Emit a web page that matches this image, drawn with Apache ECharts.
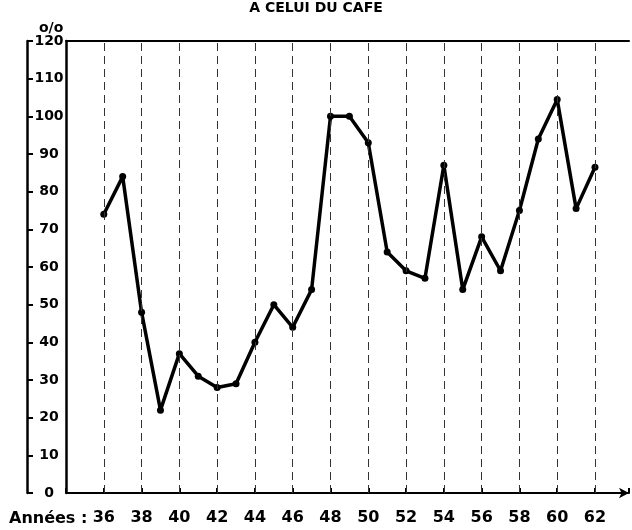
<!DOCTYPE html>
<html>
<head>
<meta charset="utf-8">
<script src="https://cdn.jsdelivr.net/npm/echarts@6/dist/echarts.min.js"></script>
<style>
  html, body { margin: 0; padding: 0; background: #fff; }
  #chart { width: 632px; height: 530px; }
</style>
</head>
<body>
<div id="chart"></div>
<script>
// années (19..), valeurs en o/o
const years = [36, 37, 38, 39, 40, 41, 42, 43, 44, 45, 46, 47, 48, 49,
               50, 51, 52, 53, 54, 55, 56, 57, 58, 59, 60, 61, 62];
const values = [74, 84, 48, 22, 37, 31, 28, 29, 40, 50, 44, 54, 100, 100,
                93, 64, 59, 57, 87, 54, 68, 59, 75, 94, 104.5, 75.5, 86.5];
const yearTicks = [36, 38, 40, 42, 44, 46, 48, 50, 52, 54, 56, 58, 60, 62];

const font = 'DejaVu Sans';
const chart = echarts.init(document.getElementById('chart'));

chart.setOption({
  animation: false,
  backgroundColor: '#fff',
  title: [
    {
      text: 'A CELUI DU CAFE',
      left: 'center',
      top: -4,
      textStyle: { fontFamily: font, fontSize: 14, fontWeight: 'bold', color: '#000' }
    },
    {
      text: 'o/o',
      left: 34,
      top: 16,
      textStyle: { fontFamily: font, fontSize: 14, fontWeight: 'bold', color: '#000' }
    },
    {
      text: 'Années :',
      left: 4,
      top: 506,
      textStyle: { fontFamily: font, fontSize: 16, fontWeight: 'bold', color: '#000' }
    }
  ],
  grid: { left: 66, right: 0, top: 41, bottom: 37 },
  xAxis: [{
    type: 'value',
    min: 34,
    max: 63.8,
    interval: 2,
    position: 'bottom',
    axisLine: {
      show: true,
      onZero: false,
      symbol: ['none', 'arrow'],
      symbolSize: [8, 10],
      lineStyle: { color: '#000', width: 2 }
    },
    axisTick: { show: true, inside: true, length: 5, lineStyle: { color: '#000', width: 2 } },
    axisLabel: {
      color: '#000',
      fontFamily: font,
      fontSize: 16,
      fontWeight: 'bold',
      margin: 17,
      formatter: v => (yearTicks.indexOf(v) >= 0 ? String(v) : '')
    },
    splitLine: { show: false }
  }, {
    type: 'value',
    min: 34,
    max: 63.8,
    position: 'top',
    axisLine: { show: true, onZero: false, lineStyle: { color: '#000', width: 2 } },
    axisTick: { show: false },
    axisLabel: { show: false },
    splitLine: { show: false }
  }],
  yAxis: [{
    type: 'value',
    min: 0,
    max: 120,
    interval: 10,
    position: 'left',
    offset: 39,
    axisLine: { show: true, onZero: false, lineStyle: { color: '#000', width: 2.5 } },
    axisTick: { show: true, inside: true, length: 6, lineStyle: { color: '#000', width: 2 } },
    axisLabel: {
      inside: true,
      margin: 22,
      align: 'center',
      color: '#000',
      fontFamily: font,
      fontSize: 14,
      fontWeight: 'bold'
    },
    splitLine: { show: false }
  }, {
    type: 'value',
    min: 0,
    max: 120,
    position: 'left',
    offset: 0,
    axisLine: { show: true, onZero: false, lineStyle: { color: '#000', width: 2.5 } },
    axisTick: { show: false },
    axisLabel: { show: false },
    splitLine: { show: false }
  }],
  series: [{
    type: 'line',
    xAxisIndex: 0,
    yAxisIndex: 0,
    data: years.map((y, i) => [y, values[i]]),
    symbol: 'circle',
    symbolSize: 7,
    itemStyle: { color: '#000' },
    lineStyle: { color: '#000', width: 3.5 },
    z: 3,
    // lignes verticales pointillées aux années paires
    markLine: {
      silent: true,
      symbol: 'none',
      label: { show: false },
      lineStyle: { color: '#333', width: 1, type: [8, 5] },
      data: yearTicks.map(x => ({ xAxis: x }))
    }
  }]
});
</script>
</body>
</html>
